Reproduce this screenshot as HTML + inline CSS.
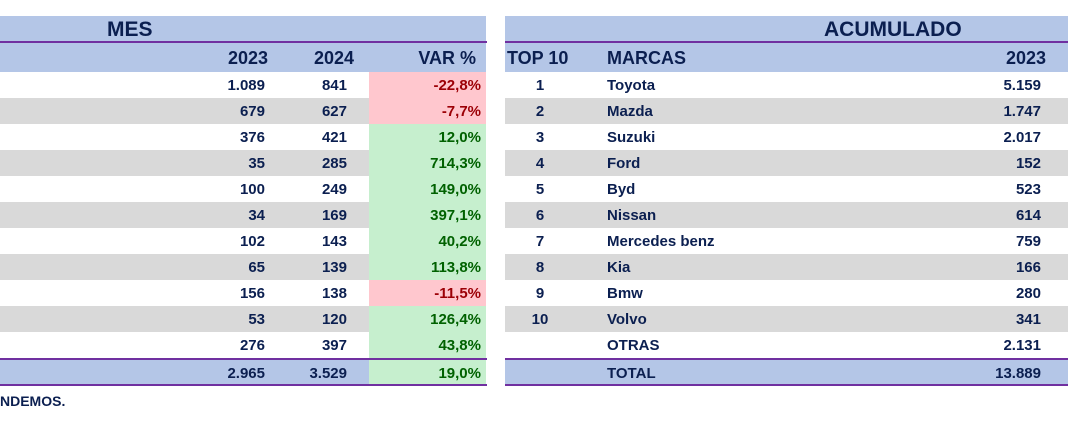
<!DOCTYPE html>
<html><head><meta charset="utf-8"><style>
body{margin:0;width:1068px;height:438px;background:#fff;position:relative;overflow:hidden;font-family:"Liberation Sans",sans-serif;font-weight:bold;color:#0b1f50}
.a{position:absolute}
.r{position:absolute;height:26px;line-height:27px;font-size:15px}
.rt{text-align:right}
.bl{background:#b4c6e7}
.g{background:#d9d9d9}
.pk{background:#ffc7ce;color:#9c0006}
.gn{background:#c6efce;color:#006100}
.ln{position:absolute;height:2px;background:#7030a0}
</style></head><body>
<div class="a bl" style="left:0;top:16px;width:486px;height:56px"></div>
<div class="a bl" style="left:505px;top:16px;width:563px;height:56px"></div>
<div class="ln" style="left:0;top:41px;width:487px"></div>
<div class="ln" style="left:505px;top:41px;width:563px"></div>
<div class="a" style="left:107px;top:16px;font-size:21px;line-height:28px">MES</div>
<div class="a" style="left:824px;top:16px;font-size:21px;line-height:28px">ACUMULADO</div>
<div class="a rt" style="left:180px;width:88px;top:43px;font-size:18px;line-height:30px">2023</div>
<div class="a rt" style="left:270px;width:84px;top:43px;font-size:18px;line-height:30px">2024</div>
<div class="a rt" style="left:370px;width:106px;top:43px;font-size:18px;line-height:30px">VAR %</div>
<div class="a" style="left:507px;top:43px;font-size:18px;line-height:30px">TOP 10</div>
<div class="a" style="left:607px;top:43px;font-size:18px;line-height:30px">MARCAS</div>
<div class="a rt" style="left:940px;width:106px;top:43px;font-size:18px;line-height:30px">2023</div>
<div class="a g" style="left:0;top:98px;width:369px;height:26px"></div>
<div class="a g" style="left:0;top:150px;width:369px;height:26px"></div>
<div class="a g" style="left:0;top:202px;width:369px;height:26px"></div>
<div class="a g" style="left:0;top:254px;width:369px;height:26px"></div>
<div class="a g" style="left:0;top:306px;width:369px;height:26px"></div>
<div class="a g" style="left:505px;top:98px;width:563px;height:26px"></div>
<div class="a g" style="left:505px;top:150px;width:563px;height:26px"></div>
<div class="a g" style="left:505px;top:202px;width:563px;height:26px"></div>
<div class="a g" style="left:505px;top:254px;width:563px;height:26px"></div>
<div class="a g" style="left:505px;top:306px;width:563px;height:26px"></div>
<div class="a bl" style="left:0;top:360px;width:369px;height:25px"></div>
<div class="a bl" style="left:505px;top:360px;width:563px;height:25px"></div>

<div class="r pk rt" style="left:369px;width:112px;padding-right:5px;top:72px">-22,8%</div>
<div class="r pk rt" style="left:369px;width:112px;padding-right:5px;top:98px">-7,7%</div>
<div class="r gn rt" style="left:369px;width:112px;padding-right:5px;top:124px">12,0%</div>
<div class="r gn rt" style="left:369px;width:112px;padding-right:5px;top:150px">714,3%</div>
<div class="r gn rt" style="left:369px;width:112px;padding-right:5px;top:176px">149,0%</div>
<div class="r gn rt" style="left:369px;width:112px;padding-right:5px;top:202px">397,1%</div>
<div class="r gn rt" style="left:369px;width:112px;padding-right:5px;top:228px">40,2%</div>
<div class="r gn rt" style="left:369px;width:112px;padding-right:5px;top:254px">113,8%</div>
<div class="r pk rt" style="left:369px;width:112px;padding-right:5px;top:280px">-11,5%</div>
<div class="r gn rt" style="left:369px;width:112px;padding-right:5px;top:306px">126,4%</div>
<div class="r gn rt" style="left:369px;width:112px;padding-right:5px;top:332px">43,8%</div>
<div class="r gn rt" style="left:369px;width:112px;padding-right:5px;top:360px;height:25px">19,0%</div>

<div class="r rt" style="left:180px;width:85px;top:72px">1.089</div><div class="r rt" style="left:270px;width:77px;top:72px">841</div>
<div class="r rt" style="left:180px;width:85px;top:98px">679</div><div class="r rt" style="left:270px;width:77px;top:98px">627</div>
<div class="r rt" style="left:180px;width:85px;top:124px">376</div><div class="r rt" style="left:270px;width:77px;top:124px">421</div>
<div class="r rt" style="left:180px;width:85px;top:150px">35</div><div class="r rt" style="left:270px;width:77px;top:150px">285</div>
<div class="r rt" style="left:180px;width:85px;top:176px">100</div><div class="r rt" style="left:270px;width:77px;top:176px">249</div>
<div class="r rt" style="left:180px;width:85px;top:202px">34</div><div class="r rt" style="left:270px;width:77px;top:202px">169</div>
<div class="r rt" style="left:180px;width:85px;top:228px">102</div><div class="r rt" style="left:270px;width:77px;top:228px">143</div>
<div class="r rt" style="left:180px;width:85px;top:254px">65</div><div class="r rt" style="left:270px;width:77px;top:254px">139</div>
<div class="r rt" style="left:180px;width:85px;top:280px">156</div><div class="r rt" style="left:270px;width:77px;top:280px">138</div>
<div class="r rt" style="left:180px;width:85px;top:306px">53</div><div class="r rt" style="left:270px;width:77px;top:306px">120</div>
<div class="r rt" style="left:180px;width:85px;top:332px">276</div><div class="r rt" style="left:270px;width:77px;top:332px">397</div>
<div class="r rt" style="left:180px;width:85px;top:360px;height:25px">2.965</div><div class="r rt" style="left:270px;width:77px;top:360px;height:25px">3.529</div>

<div class="r" style="left:520px;width:40px;text-align:center;top:72px">1</div><div class="r" style="left:607px;top:72px">Toyota</div><div class="r rt" style="left:940px;width:101px;top:72px">5.159</div>
<div class="r" style="left:520px;width:40px;text-align:center;top:98px">2</div><div class="r" style="left:607px;top:98px">Mazda</div><div class="r rt" style="left:940px;width:101px;top:98px">1.747</div>
<div class="r" style="left:520px;width:40px;text-align:center;top:124px">3</div><div class="r" style="left:607px;top:124px">Suzuki</div><div class="r rt" style="left:940px;width:101px;top:124px">2.017</div>
<div class="r" style="left:520px;width:40px;text-align:center;top:150px">4</div><div class="r" style="left:607px;top:150px">Ford</div><div class="r rt" style="left:940px;width:101px;top:150px">152</div>
<div class="r" style="left:520px;width:40px;text-align:center;top:176px">5</div><div class="r" style="left:607px;top:176px">Byd</div><div class="r rt" style="left:940px;width:101px;top:176px">523</div>
<div class="r" style="left:520px;width:40px;text-align:center;top:202px">6</div><div class="r" style="left:607px;top:202px">Nissan</div><div class="r rt" style="left:940px;width:101px;top:202px">614</div>
<div class="r" style="left:520px;width:40px;text-align:center;top:228px">7</div><div class="r" style="left:607px;top:228px">Mercedes benz</div><div class="r rt" style="left:940px;width:101px;top:228px">759</div>
<div class="r" style="left:520px;width:40px;text-align:center;top:254px">8</div><div class="r" style="left:607px;top:254px">Kia</div><div class="r rt" style="left:940px;width:101px;top:254px">166</div>
<div class="r" style="left:520px;width:40px;text-align:center;top:280px">9</div><div class="r" style="left:607px;top:280px">Bmw</div><div class="r rt" style="left:940px;width:101px;top:280px">280</div>
<div class="r" style="left:520px;width:40px;text-align:center;top:306px">10</div><div class="r" style="left:607px;top:306px">Volvo</div><div class="r rt" style="left:940px;width:101px;top:306px">341</div>
<div class="r" style="left:607px;top:332px">OTRAS</div><div class="r rt" style="left:940px;width:101px;top:332px">2.131</div>
<div class="r" style="left:607px;top:360px;height:25px">TOTAL</div><div class="r rt" style="left:940px;width:101px;top:360px;height:25px">13.889</div>

<div class="ln" style="left:0;top:358px;width:487px"></div>
<div class="ln" style="left:505px;top:358px;width:563px"></div>
<div class="ln" style="left:0;top:384px;width:487px"></div>
<div class="ln" style="left:505px;top:384px;width:563px"></div>
<div class="a" style="left:0;top:391px;font-size:14px;line-height:20px">NDEMOS.</div>
</body></html>
